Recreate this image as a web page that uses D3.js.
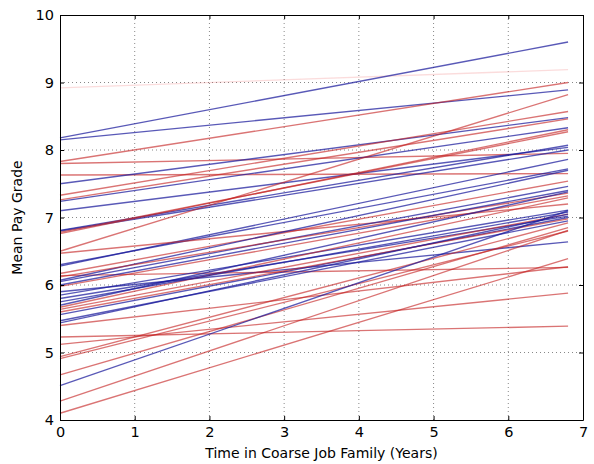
<!DOCTYPE html>
<html><head><meta charset="utf-8">
<script src="https://cdn.jsdelivr.net/npm/d3@7"></script>
<style>body{margin:0;background:#fff}svg{display:block}text{font-family:"DejaVu Sans",sans-serif}</style>
</head><body>
<script>
const years = [0, 6.8];
const xTicks = [0,1,2,3,4,5,6,7];
const yTicks = [4,5,6,7,8,9,10];
// group codes: R = red, B = blue, P = faint pink
const groups = ["P","B","B","R","R","R","B","R","R","B","B","B","B","R","R","R","B","B","R","R","R","B","B","R","B","B","B","B","R","R","B","B","B","R","R","B","B","R","R","R","R","R","R","R","R","B"];
const startGrade = [8.92,8.18,8.15,7.83,7.80,7.63,7.50,7.33,7.26,7.24,7.10,6.81,6.80,6.78,6.76,6.50,6.30,6.28,6.47,6.17,6.14,6.07,6.05,6.12,6.00,5.90,5.85,5.80,5.98,5.67,5.75,5.70,5.56,5.64,5.60,5.47,5.44,5.40,5.23,5.12,4.94,4.91,4.67,4.28,4.10,4.51];
const endGrade   = [9.19,9.60,8.89,9.00,7.95,7.65,8.48,8.57,8.46,8.33,8.04,8.07,8.00,8.27,8.30,8.82,7.72,7.86,7.20,7.54,6.26,7.70,7.46,7.36,7.40,6.64,7.11,7.02,7.32,7.29,7.08,7.38,7.00,7.05,6.98,6.95,7.05,6.27,5.39,5.88,6.92,6.80,6.85,6.81,6.39,7.10];

const W = 594, H = 464;
const m = {l:60, r:11, t:15, b:44};
const svg = d3.select("body").append("svg").attr("width",W).attr("height",H);
const x = d3.scaleLinear().domain([0,7]).range([m.l, W-m.r]);
const y = d3.scaleLinear().domain([4,10]).range([H-m.b, m.t]);

// grid
const grid = svg.append("g");
grid.selectAll("line.vx").data(xTicks.slice(1,-1)).join("line")
  .attr("x1",d=>x(d)).attr("x2",d=>x(d)).attr("y1",y(4)).attr("y2",y(10))
  .attr("stroke","#555").attr("stroke-width",0.7).attr("stroke-dasharray","1,3");
grid.selectAll("line.hy").data(yTicks.slice(1,-1)).join("line")
  .attr("y1",d=>y(d)).attr("y2",d=>y(d)).attr("x1",x(0)).attr("x2",x(7))
  .attr("stroke","#555").attr("stroke-width",0.7).attr("stroke-dasharray","1,3");

const colorOf = {R:"rgb(195,30,30)", B:"rgb(25,25,155)", P:"rgb(235,80,80)"};
const opOf = {R:0.62, B:0.72, P:0.2};
const lineGen = d3.line().x(d=>x(d[0])).y(d=>y(d[1]));
svg.append("g").selectAll("path").data(startGrade.map((s,i)=>({s, e:endGrade[i], g:groups[i]})))
  .join("path")
  .attr("d",d=>lineGen([[years[0],d.s],[years[1],d.e]]))
  .attr("fill","none").attr("stroke",d=>colorOf[d.g]).attr("stroke-opacity",d=>opOf[d.g])
  .attr("stroke-width",1.35);

// axes (inward ticks, all sides)
const addAxis = (gen, tr) => svg.append("g").attr("transform",tr).call(gen);
addAxis(d3.axisBottom(x).tickValues(xTicks).tickFormat(d3.format("d")).tickSizeInner(-4).tickSizeOuter(0).tickPadding(7), `translate(0,${y(4)})`);
addAxis(d3.axisTop(x).tickValues(xTicks).tickFormat("").tickSizeInner(-4).tickSizeOuter(0), `translate(0,${y(10)})`);
addAxis(d3.axisLeft(y).tickValues(yTicks).tickFormat(d3.format("d")).tickSizeInner(-4).tickSizeOuter(0).tickPadding(6), `translate(${x(0)},0)`);
addAxis(d3.axisRight(y).tickValues(yTicks).tickFormat("").tickSizeInner(-4).tickSizeOuter(0), `translate(${x(7)},0)`);
svg.selectAll(".domain").attr("stroke","#000").attr("stroke-width",1);
svg.selectAll(".tick line").attr("stroke","#000");
svg.selectAll(".tick text").attr("font-size",14.5).attr("fill","#000").attr("font-family","DejaVu Sans, sans-serif");

svg.append("text").attr("x",(x(0)+x(7))/2).attr("y",H-6).attr("text-anchor","middle")
  .attr("font-size",14).text("Time in Coarse Job Family (Years)");
svg.append("text").attr("transform",`translate(22,${(y(4)+y(10))/2}) rotate(-90)`).attr("text-anchor","middle")
  .attr("font-size",14).text("Mean Pay Grade");
</script>
</body></html>
